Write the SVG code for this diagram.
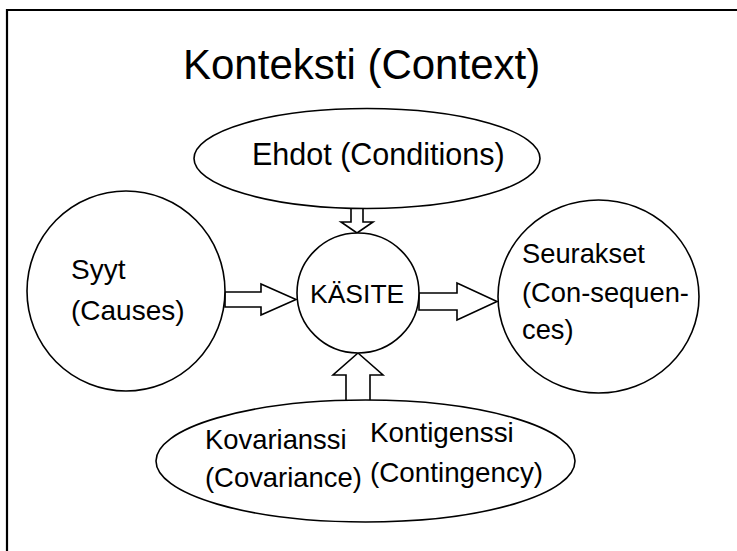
<svg xmlns="http://www.w3.org/2000/svg" width="737" height="551" viewBox="0 0 737 551">
  <style>
    .shape { fill: #ffffff; stroke: #000000; stroke-width: 1.6; }
    .arrow { fill: #ffffff; stroke: #000000; stroke-width: 1.6; stroke-linejoin: miter; }
    .lbl { font-family: "Liberation Sans", Arial, sans-serif; fill: #000000; }
  </style>
  <rect x="0" y="0" width="737" height="551" fill="#ffffff"/>
  <path d="M7,551 V10 H737" fill="none" stroke="#000000" stroke-width="2.2"/>
  <text class="lbl" x="183" y="79" font-size="42">Konteksti (Context)</text>

  <g id="connectors">
    <polygon class="arrow" points="351,208 363,208 363,222 373,222 357,233 341,222 351,222"/>
    <polygon class="arrow" points="225,292 261,292 261,284 296,299.5 261,315 261,307 225,307"/>
    <polygon class="arrow" points="419,293 457,293 457,283 497,301.5 457,320 457,310 419,310"/>
    <polygon class="arrow" points="358,353 383,375 370,375 370,401 346,401 346,375 333,375"/>
  </g>

  <g id="ehdot">
    <ellipse class="shape" cx="367" cy="158.5" rx="173" ry="50"/>
    <text class="lbl" x="252" y="165" font-size="30.5">Ehdot (Conditions)</text>
  </g>
  <g id="syyt">
    <ellipse class="shape" cx="126" cy="291" rx="99" ry="100"/>
    <text class="lbl" x="71" y="279" font-size="28">Syyt</text>
    <text class="lbl" x="71" y="320" font-size="28">(Causes)</text>
  </g>
  <g id="kasite">
    <ellipse class="shape" cx="358" cy="293" rx="61" ry="60"/>
    <text class="lbl" x="310" y="303" font-size="26.5">KÄSITE</text>
  </g>
  <g id="seurakset">
    <ellipse class="shape" cx="598.5" cy="296.5" rx="100.5" ry="96.5"/>
    <text class="lbl" x="522" y="263" font-size="27.3">Seurakset</text>
    <text class="lbl" x="522" y="302" font-size="27.3">(Con-sequen-</text>
    <text class="lbl" x="522" y="339" font-size="27.3">ces)</text>
  </g>
  <g id="kovarianssi">
    <ellipse class="shape" cx="365.5" cy="461" rx="209.5" ry="61"/>
    <text class="lbl" x="205" y="449" font-size="27.4">Kovarianssi</text>
    <text class="lbl" x="205" y="487" font-size="27.4">(Covariance)</text>
    <text class="lbl" x="370" y="442" font-size="27.8">Kontigenssi</text>
    <text class="lbl" x="370" y="482" font-size="27.8">(Contingency)</text>
  </g>
</svg>
